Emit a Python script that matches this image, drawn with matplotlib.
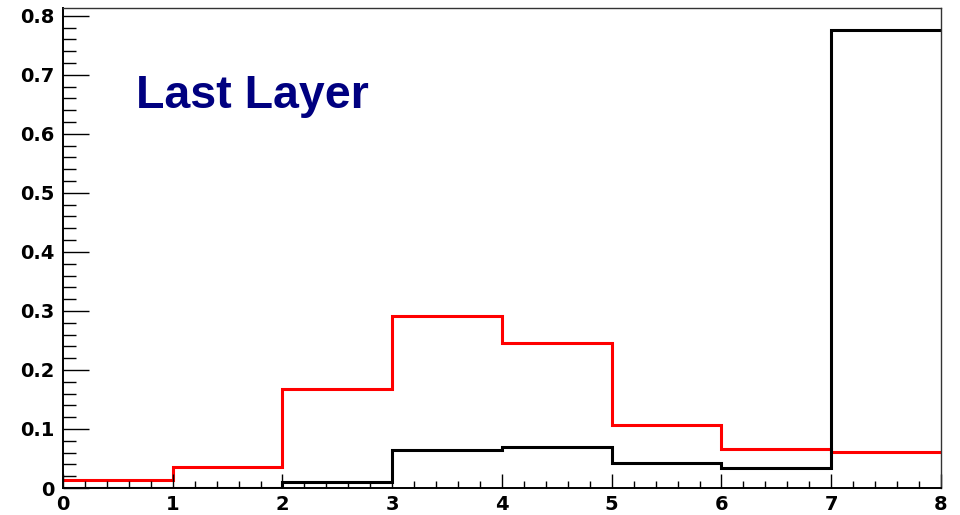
import numpy as np
import matplotlib
matplotlib.use("Agg")
import matplotlib.pyplot as plt
from matplotlib.ticker import MultipleLocator

# ── Data ────────────────────────────────────────────────────────────────
bin_edges = [0, 1, 2, 3, 4, 5, 6, 7, 8]
red_values = [0.013, 0.036, 0.168, 0.292, 0.246, 0.107, 0.066, 0.0605]
black_values = [0.0, 0.0, 0.010, 0.064, 0.0695, 0.042, 0.034, 0.776]
x_ticks = [0, 1, 2, 3, 4, 5, 6, 7, 8]
y_ticks = [0, 0.1, 0.2, 0.3, 0.4, 0.5, 0.6, 0.7, 0.8]
y_tick_labels = ["0", "0.1", "0.2", "0.3", "0.4", "0.5", "0.6", "0.7", "0.8"]

plt.rcParams["font.family"] = ["DejaVu Sans"]

fig = plt.figure(figsize=(9.6, 5.15), dpi=100)
ax = fig.add_axes([0.0656, 0.0524, 0.9146, 0.933])

ax.stairs(red_values, bin_edges, baseline=None, color="#ff0000", lw=2.2)
ax.stairs(black_values, bin_edges, baseline=None, color="black", lw=2.2)

ax.set_xlim(0, 8)
ax.set_ylim(0, 0.814)

# ROOT-like ticks: inside, on left and bottom only
ax.set_xticks(x_ticks)
ax.set_yticks(y_ticks)
ax.set_yticklabels(y_tick_labels)
ax.xaxis.set_minor_locator(MultipleLocator(0.2))
ax.yaxis.set_minor_locator(MultipleLocator(0.02))
ax.tick_params(axis="x", which="major", direction="in", length=10, width=1, pad=5)
ax.tick_params(axis="x", which="minor", direction="in", length=5, width=1)
ax.tick_params(axis="y", which="major", direction="in", length=19, width=1, pad=6)
ax.tick_params(axis="y", which="minor", direction="in", length=9.5, width=1)
for lab in ax.get_xticklabels() + ax.get_yticklabels():
    lab.set_fontsize(14)
    lab.set_fontweight("bold")

for side in ["left", "bottom"]:
    ax.spines[side].set_linewidth(1.4)
for side in ["top", "right"]:
    ax.spines[side].set_linewidth(1.0)
    ax.spines[side].set_color("#333333")

ax.text(0.083, 0.815, "Last Layer", transform=ax.transAxes,
        fontsize=33.5, fontweight="bold", color="#000080",
        family="Liberation Sans", ha="left", va="center")

fig.savefig("out.png", dpi=100)
